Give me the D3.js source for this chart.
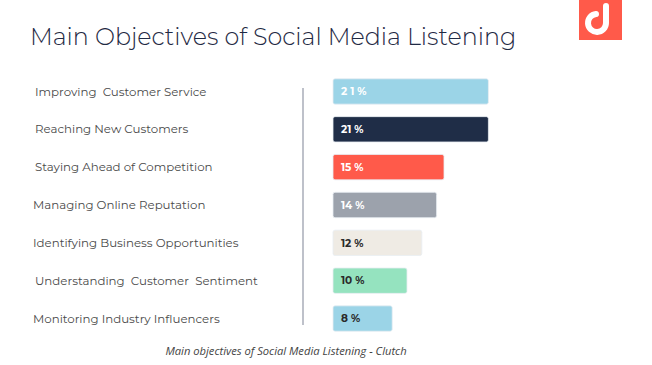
<!DOCTYPE html>
<html>
<head>
<meta charset="utf-8">
<script src="https://cdn.jsdelivr.net/npm/d3@7"></script>
<style>
  body { margin: 0; background: #fff; }
  text { white-space: pre; }
</style>
</head>
<body>
<script>
var width = 652;
var height = 365;

// chart data
var categories = [
    "Improving  Customer Service",
    "Reaching New Customers",
    "Staying Ahead of Competition",
    "Managing Online Reputation",
    "Identifying Business Opportunities",
    "Understanding  Customer  Sentiment",
    "Monitoring Industry Influencers"
];
var values = [21, 21, 15, 14, 12, 10, 8];
var valueLabels = ["2 1 %", "21 %", "15 %", "14 %", "12 %", "10 %", "8 %"];
var barColors = ["#9bd4e7", "#1f2d47", "#ff5a4a", "#9ca2ac", "#efebe4", "#95e3bf", "#9bd4e7"];
var labelColors = ["#ffffff", "#ffffff", "#ffffff", "#ffffff", "#2a2a2a", "#2a2a2a", "#2a2a2a"];
var labelX = [35, 35, 35, 33, 33, 35, 33];

var svg = d3.select("body")
    .append("svg")
    .attr("width", width)
    .attr("height", height);

// title
svg.append("text")
    .attr("x", 30)
    .attr("y", 45)
    .attr("font-family", "Montserrat, 'Open Sans', sans-serif")
    .attr("font-weight", 300)
    .attr("font-size", 23.8)
    .attr("fill", "#1f2a44")
    .text("Main Objectives of Social Media Listening");

// logo
var logo = svg.append("g").attr("transform", "translate(579,0)");
logo.append("rect")
    .attr("width", 43)
    .attr("height", 40)
    .attr("fill", "#ff5a4a");
logo.append("path")
    .attr("d", "M17,14 A9,9 0 1 0 27,23 L27,6")
    .attr("fill", "none")
    .attr("stroke", "#fff")
    .attr("stroke-width", 6)
    .attr("stroke-linecap", "round");

// scales
var x = d3.scaleLinear()
    .domain([0, 15])
    .range([333, 444]);

var y = d3.scaleBand()
    .domain(categories)
    .range([75, 335])
    .paddingInner(0.33)
    .paddingOuter(0.1);

// category labels
svg.selectAll(".cat")
    .data(categories)
    .enter()
    .append("text")
    .attr("class", "cat")
    .attr("x", function (d, i) { return labelX[i]; })
    .attr("y", function (d) { return y(d) + y.bandwidth() / 2; })
    .attr("dy", "0.35em")
    .attr("font-family", "Montserrat, 'Open Sans', sans-serif")
    .attr("font-size", 11.8)
    .attr("fill", "#4a4a4a")
    .text(function (d) { return d; });

// divider line
svg.append("line")
    .attr("x1", 303)
    .attr("x2", 303)
    .attr("y1", 88)
    .attr("y2", 325)
    .attr("stroke", "#a9adb8")
    .attr("stroke-width", 1.5);

// bars
svg.selectAll(".bar")
    .data(values)
    .enter()
    .append("rect")
    .attr("class", "bar")
    .attr("x", x(0))
    .attr("y", function (d, i) { return y(categories[i]); })
    .attr("width", function (d) { return x(d) - x(0); })
    .attr("height", y.bandwidth())
    .attr("rx", 2)
    .attr("fill", function (d, i) { return barColors[i]; })
    .attr("stroke", "#e8eef2")
    .attr("stroke-width", 0.8);

// value labels
svg.selectAll(".val")
    .data(valueLabels)
    .enter()
    .append("text")
    .attr("class", "val")
    .attr("x", x(0) + 8)
    .attr("y", function (d, i) { return y(categories[i]) + y.bandwidth() / 2; })
    .attr("dy", "0.35em")
    .attr("font-family", "Montserrat, 'Open Sans', sans-serif")
    .attr("font-weight", 700)
    .attr("font-size", 10.5)
    .attr("fill", function (d, i) { return labelColors[i]; })
    .text(function (d) { return d; });

// caption
svg.append("text")
    .attr("x", 286)
    .attr("y", 355)
    .attr("text-anchor", "middle")
    .attr("font-family", "'Open Sans', sans-serif")
    .attr("font-style", "italic")
    .attr("font-size", 11.2)
    .attr("fill", "#444")
    .text("Main objectives of Social Media Listening - Clutch");
</script>
</body>
</html>
